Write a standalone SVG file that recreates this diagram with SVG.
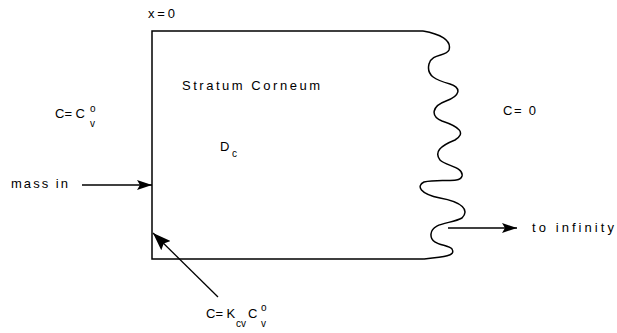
<svg xmlns="http://www.w3.org/2000/svg" width="617" height="333" viewBox="0 0 617 333">
<style>
text{font-family:"Liberation Sans",Arial,sans-serif;fill:#000;font-size:13px}
.sub{font-size:10px}
.ln{fill:none;stroke:#000;stroke-width:1.5}
.cn{fill:none;stroke:#000;stroke-width:1.3}
</style>
<defs>
<marker id="ah" viewBox="0 0 15 10" refX="15" refY="5" markerWidth="15" markerHeight="10" markerUnits="userSpaceOnUse" orient="auto"><path d="M0,0 L15,5 L0,10 L3,5 Z"/></marker>
<marker id="ahL" viewBox="0 0 18 13" refX="18" refY="6.5" markerWidth="18" markerHeight="13" markerUnits="userSpaceOnUse" orient="auto"><path d="M0,0 L18,6.5 L0,13 L3,6.5 Z"/></marker>
</defs>
<rect width="617" height="333" fill="#fff"/>
<g id="stratum-corneum">
<path class="ln" d="M423,31 L152,31 L152,259 L423,259"/>
<path class="ln" d="M423,31 C440,34 452,40 449,50 C446,57 432,53 429,64 C426,76 436,80 450,84 C462,88 460,96 446,101 C432,106 430,116 442,121 C460,127 466,133 455,140 C440,146 434,152 440,160 C446,166 464,167 462,176 C460,184 440,178 424,182 C416,186 420,194 440,198 C462,202 470,210 462,218 C452,224 432,222 431,234 C430,246 448,244 452,249 C456,256 444,257 423,259"/>
<text x="182" y="90" font-size="14" textLength="138" lengthAdjust="spacing">Stratum  Corneum</text>
<text x="220" y="151">D</text>
<text x="232" y="157" class="sub">c</text>
</g>
<g id="labels">
<text x="148" y="18" font-size="12" textLength="27" lengthAdjust="spacing">x=0</text>
<text x="55" y="118">C= C</text>
<text x="90" y="112" class="sub">o</text>
<text x="90" y="127" class="sub">v</text>
<text x="503" y="115" textLength="33" lengthAdjust="spacing">C= 0</text>
<text x="11" y="188" textLength="57" lengthAdjust="spacing">mass  in</text>
<text x="532" y="232" textLength="82" lengthAdjust="spacing">to   infinity</text>
<text x="206" y="318">C= K</text>
<text x="236" y="327" class="sub">cv</text>
<text x="248" y="318">C</text>
<text x="261" y="311" class="sub">o</text>
<text x="261" y="327" class="sub">v</text>
</g>
<g id="connectors">
<line class="cn" x1="82" y1="185" x2="152" y2="185" marker-end="url(#ah)"/>
<line class="cn" x1="448" y1="228" x2="517" y2="228" marker-end="url(#ah)"/>
<line class="cn" x1="218" y1="297" x2="153" y2="233" marker-end="url(#ahL)"/>
</g>
</svg>
